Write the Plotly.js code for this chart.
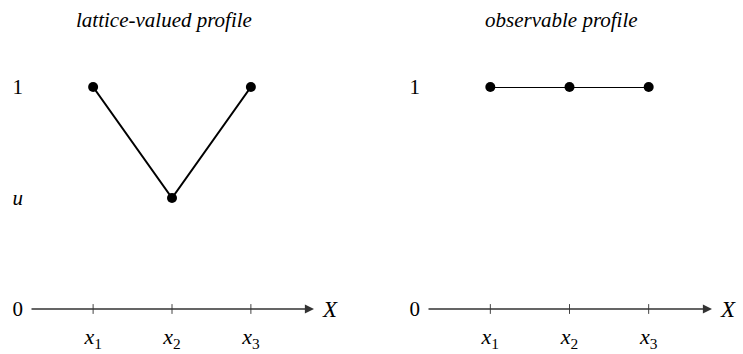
<!DOCTYPE html>
<html>
<head>
<meta charset="utf-8">
<script src="https://cdn.plot.ly/plotly-3.0.1.min.js"></script>
<style>html,body{margin:0;padding:0;background:#fff;}#chart{width:743px;height:354px;}</style>
</head>
<body>
<div id="chart"></div>
<script>
// Data
var points = [1, 2, 3];
var pointLabels = ["<i>x</i><sub>1</sub>", "<i>x</i><sub>2</sub>", "<i>x</i><sub>3</sub>"];
var latticeValues = [1, 0.5, 1];
var observableValues = [1, 1, 1];
var leftYTicks = [0, 0.5, 1];
var leftYLabels = ["0", "<i>u</i>", "1"];
var rightYTicks = [0, 1];
var rightYLabels = ["0", "1"];
var panelTitles = ["lattice-valued profile", "observable profile"];
var axisName = "X";

var FONT = "Liberation Serif, DejaVu Serif, serif";
var W = 743, H = 354;

function profileTrace(vals, xa, ya) {
  return {
    x: points, y: vals, xaxis: xa, yaxis: ya,
    mode: "lines+markers", type: "scatter", cliponaxis: false,
    line: {color: "#000", width: 2},
    marker: {color: "#000", size: 10},
    hoverinfo: "skip"
  };
}
function tickTrace(xa, ya) {
  return {
    x: points, y: points.map(function(){return 0;}), xaxis: xa, yaxis: ya,
    mode: "markers", type: "scatter", cliponaxis: false,
    marker: {symbol: "line-ns-open", size: 7, color: "#444", line: {color: "#444", width: 1}},
    hoverinfo: "skip"
  };
}

var data = [
  tickTrace("x", "y"),
  profileTrace(latticeValues, "x", "y"),
  tickTrace("x2", "y2"),
  profileTrace(observableValues, "x2", "y2")
];

var yDomain = [45 / H, 267 / H];
function xAxis(dom) {
  return {
    domain: dom, range: [0.2, 3.8], showgrid: false, zeroline: false, showline: false,
    tickvals: points, ticktext: pointLabels, ticks: "", ticklabelstandoff: 12,
    tickfont: {family: FONT, size: 22, color: "#000"}, fixedrange: true
  };
}
function yAxis(dom, anchor, vals, labels) {
  return {
    domain: dom, anchor: anchor, range: [0, 1], showgrid: false, zeroline: false, showline: false,
    tickvals: vals, ticktext: labels, ticks: "", ticklabelstandoff: 6,
    tickfont: {family: FONT, size: 21, color: "#000"}, fixedrange: true
  };
}

function axisArrow(xr, yr) {
  return {
    x: 3.8, y: 0, ax: 0.2, ay: 0, xref: xr, yref: yr, axref: xr, ayref: yr,
    showarrow: true, arrowhead: 2, arrowsize: 1.4, arrowwidth: 1.3, arrowcolor: "#333", text: ""
  };
}
function axisLabel(xr, yr) {
  return {
    x: 3.8, y: 0, xref: xr, yref: yr, xanchor: "left", yanchor: "middle", xshift: 6,
    showarrow: false, text: "<i>" + axisName + "</i>",
    font: {family: FONT, size: 23, color: "#000"}
  };
}
function titleAnn(cx, txt) {
  return {
    x: cx / W, y: 1 - 20 / H, xref: "paper", yref: "paper", xanchor: "center", yanchor: "middle",
    showarrow: false, text: "<i>" + txt + "</i>",
    font: {family: FONT, size: 21, color: "#000"}
  };
}

var layout = {
  width: W, height: H,
  margin: {l: 0, r: 0, t: 0, b: 0},
  paper_bgcolor: "#fff", plot_bgcolor: "#fff",
  showlegend: false,
  font: {family: FONT},
  xaxis: xAxis([30 / W, 314 / W]),
  yaxis: yAxis(yDomain, "x", leftYTicks, leftYLabels),
  xaxis2: xAxis([427 / W, 712 / W]),
  yaxis2: yAxis(yDomain, "x2", rightYTicks, rightYLabels),
  annotations: [
    axisArrow("x", "y"), axisLabel("x", "y"),
    axisArrow("x2", "y2"), axisLabel("x2", "y2"),
    titleAnn(164, panelTitles[0]), titleAnn(561, panelTitles[1])
  ]
};
layout.xaxis.anchor = "y";
layout.xaxis2.anchor = "y2";

Plotly.newPlot("chart", data, layout, {displayModeBar: false, staticPlot: true});
</script>
</body>
</html>
